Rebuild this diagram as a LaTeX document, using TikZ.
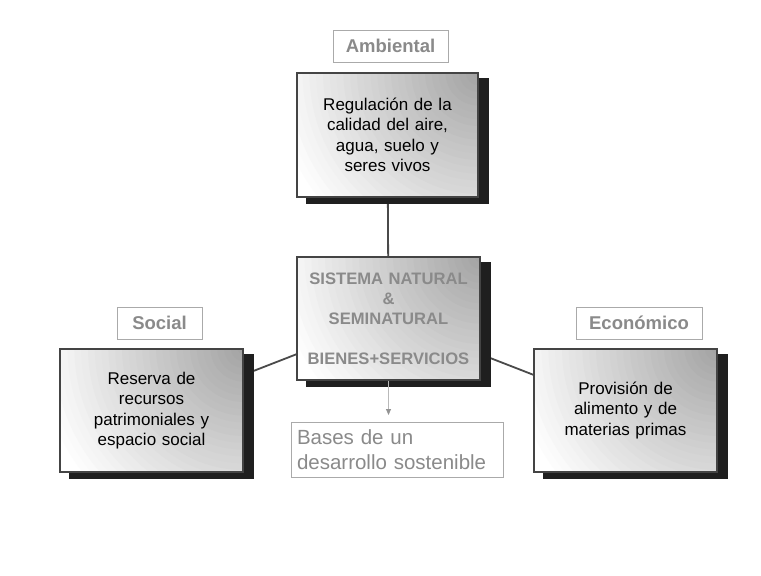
\documentclass[tikz,border=0pt]{standalone}
\usepackage{fontspec}
\setmainfont{Liberation Sans}
\usetikzlibrary{backgrounds,arrows.meta}

\definecolor{labelgray}{HTML}{8A8A8A}
\definecolor{framegray}{HTML}{AAAAAA}
\definecolor{boxedge}{HTML}{444444}
\definecolor{linkgray}{HTML}{4A4A4A}

\pgfdeclarelayer{degradado}
\pgfsetlayers{background,degradado,main}

% shadow and gradient from the top right corner of a box
\newcommand{\fondo}[1]{%
  \fill[black!88] ([shift={(0,6)}]#1.north east) rectangle ([shift={(10,6)}]#1.south east);
  \fill[black!88] ([shift={(10,0)}]#1.south west) rectangle ([shift={(10,6)}]#1.south east);
  \begin{scope}
    \clip (#1.south west) rectangle (#1.north east);
    \foreach \k in {0,...,30} {
      \pgfmathtruncatemacro{\tono}{2.4*\k}
      \fill[gray!\tono] (#1.north east) circle ({210-6.8*\k});
    }
  \end{scope}}

\tikzset{
  caja/.style={rectangle, draw=boxedge, line width=1.3pt,
    minimum width=183pt, minimum height=123pt, inner sep=2pt,
    align=center, text width=170pt,
    font=\fontsize{17}{20.5}\selectfont},
  etiqueta/.style={rectangle, draw=framegray, line width=0.8pt, fill=white,
    minimum height=32pt, inner sep=0pt, text=labelgray,
    font=\fontsize{18.5}{22}\selectfont\bfseries},
}

\begin{document}
\begin{tikzpicture}[x=1pt,y=-1pt]

      \useasboundingbox (0,0) rectangle (761,576);

      \begin{scope}[every node/.style={caja}]
        \node (ambiental) at (387.5,135)   [minimum width=181pt, minimum height=124pt]
          {Regulación de la\\ calidad del aire,\\ agua, suelo y\\ seres vivos};
        \node (centro)    at (388.5,318.5) [text=labelgray, font=\fontsize{16.6}{20}\selectfont\bfseries]
          {SISTEMA NATURAL\\ \&\\ SEMINATURAL\\[20pt] BIENES+SERVICIOS};
        \node (social)    at (151.5,410.5)
          {Reserva de\\ recursos\\ patrimoniales y\\ espacio social};
        \node (economico) at (625.5,410.5)
          {Provisión de\\ alimento y de\\ materias primas};
      \end{scope}

      \begin{scope}[every node/.style={etiqueta}]
        \node (lambiental) at (390.5,46)  [minimum width=115pt] {Ambiental};
        \node (lsocial)    at (159.5,323) [minimum width=85pt]  {Social};
        \node (leconomico) at (639,323)   [minimum width=126pt] {Económico};
        \node (bases)      at (397,449.5) [minimum width=212pt, minimum height=55pt,
          align=left, text width=200pt, font=\fontsize{20.5}{25}\selectfont]
          {Bases de un\\ desarrollo sostenible};
      \end{scope}

      \coordinate (flecha) at (388.5,415);

      \begin{pgfonlayer}{degradado}
        \fondo{ambiental}
        \fondo{centro}
        \fondo{social}
        \fondo{economico}
      \end{pgfonlayer}

      \begin{scope}[on background layer]
        \fill[white] (0,0) rectangle (761,576);
      \end{scope}

      \begin{scope}[on background layer, every edge/.style={draw=linkgray, line width=1.8pt}]
        \path (centro) edge (ambiental);
        \path (centro) edge (social);
        \path (centro) edge (economico);
      \end{scope}

      \draw[gray!55, line width=0.8pt, -{Triangle[length=6pt, width=5pt, fill=gray!85, color=gray!85]}]
        (centro.south) -- (flecha);

    \end{tikzpicture}
\end{document}
